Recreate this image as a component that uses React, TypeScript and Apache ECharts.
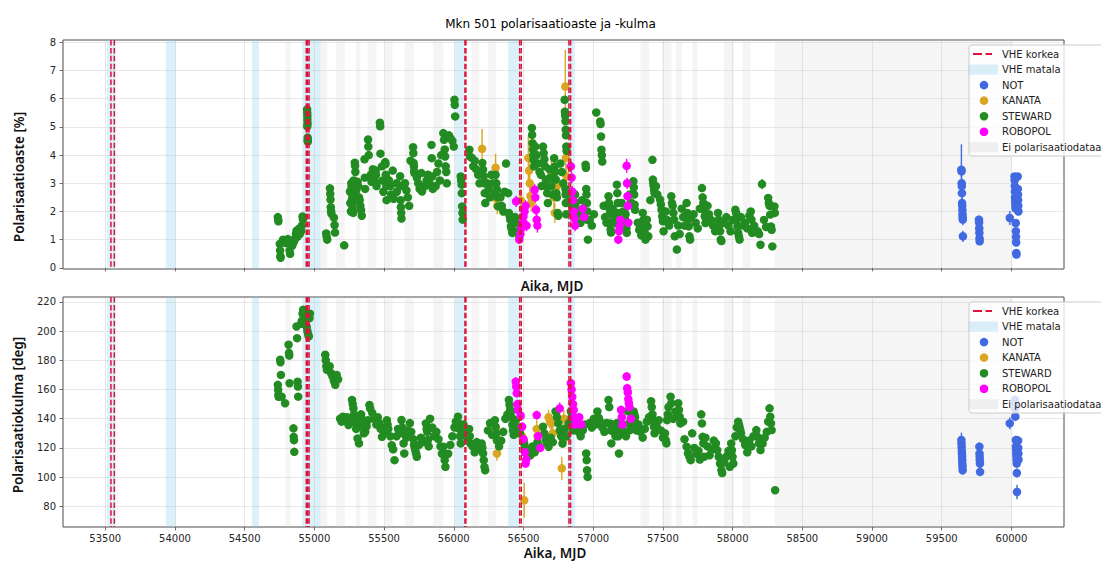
import React, { useEffect, useRef } from "react";
import * as echarts from "echarts";

// ---- axes / ticks ----
const X_MIN = 53197;
const X_MAX = 60377;
const xTicks = [53500, 54000, 54500, 55000, 55500, 56000, 56500, 57000, 57500, 58000, 58500, 59000, 59500, 60000];
const yTicksPd = [0, 1, 2, 3, 4, 5, 6, 7, 8];
const yTicksPa = [80, 100, 120, 140, 160, 180, 200, 220];

// ---- VHE periods and gaps ----
const vheHigh = [53541, 53565, 54942, 54952, 54962, 56080, 56087, 56473, 56484, 56826, 56838];
const vheLow = [
  [53514, 53575], [53935, 54005], [54553, 54602], [54913, 55045],
  [56008, 56078], [56390, 56474], [56816, 56868],
];
const noData = [
  [54793, 54829], [55047, 55092], [55154, 55219], [55298, 55331], [55382, 55446],
  [55505, 55560], [55648, 55714], [55852, 55924], [56127, 56182], [56246, 56302],
  [57339, 57401], [57494, 57562], [57593, 57638], [57712, 57748], [57937, 58008],
  [58071, 58128], [58302, 60005],
];

// ---- polarisation degree [%]: [MJD, value, error] ----
const stewardPd = [
  [54738, 1.8, 0], [54740, 1.72, 0], [54742, 1.65, 0],
  [54752, 0.85, 0], [54754, 0.62, 0], [54756, 0.42, 0], [54758, 0.36, 0],
  [54775, 1.0, 0], [54780, 0.92, 0], [54790, 0.98, 0], [54795, 0.88, 0],
  [54810, 1.02, 0], [54815, 0.9, 0], [54822, 0.62, 0], [54826, 0.5, 0],
  [54840, 0.78, 0], [54848, 0.88, 0], [54855, 0.95, 0], [54862, 1.05, 0], [54868, 1.2, 0],
  [54872, 1.32, 0], [54878, 1.1, 0], [54884, 1.25, 0], [54888, 1.38, 0], [54895, 1.2, 0],
  [54900, 1.42, 0], [54905, 1.3, 0], [54910, 1.5, 0], [54915, 1.82, 0], [54918, 1.72, 0],
  [54948, 5.62, 0], [54949, 5.5, 0], [54950, 5.38, 0], [54950, 5.25, 0], [54951, 5.12, 0],
  [54949, 5.02, 0], [54952, 4.62, 0], [54952, 4.52, 0], [54953, 4.48, 0],
  [55085, 1.22, 0], [55088, 1.1, 0], [55092, 1.0, 0],
  [55112, 2.82, 0], [55114, 2.62, 0], [55116, 2.42, 0], [55118, 2.15, 0], [55120, 2.0, 0], [55122, 1.92, 0],
  [55140, 1.78, 0], [55145, 1.52, 0], [55148, 1.25, 0],
  [55214, 0.8, 0],
  [55255, 2.7, 0], [55258, 2.3, 0], [55262, 2.0, 0],
  [55265, 3.0, 0], [55267, 2.85, 0], [55268, 2.65, 0], [55270, 2.45, 0], [55272, 2.3, 0],
  [55274, 2.12, 0], [55276, 2.0, 0], [55278, 1.95, 0], [55282, 3.1, 0], [55285, 2.6, 0],
  [55290, 3.73, 0], [55292, 3.62, 0], [55294, 3.4, 0], [55300, 2.75, 0], [55305, 2.4, 0],
  [55310, 3.05, 0], [55315, 2.9, 0], [55320, 2.5, 0], [55325, 2.4, 0], [55330, 2.2, 0], [55335, 2.05, 0], [55340, 1.85, 0],
  [55360, 3.85, 0], [55362, 3.2, 0], [55364, 2.8, 0],
  [55385, 4.55, 0], [55387, 4.3, 0], [55390, 4.0, 0], [55405, 3.3, 0], [55410, 3.05, 0], [55420, 3.5, 0], [55430, 3.2, 0],
  [55440, 3.45, 0], [55442, 3.3, 0], [55444, 3.0, 0], [55446, 2.9, 0],
  [55470, 5.15, 0], [55472, 5.02, 0], [55474, 4.05, 0], [55485, 3.6, 0], [55490, 3.1, 0], [55495, 2.7, 0],
  [55508, 3.75, 0], [55510, 3.68, 0], [55512, 3.3, 0], [55514, 3.2, 0], [55516, 2.9, 0], [55518, 2.4, 0],
  [55535, 3.1, 0], [55545, 2.9, 0], [55550, 2.6, 0],
  [55562, 3.45, 0], [55565, 2.55, 0], [55568, 2.45, 0],
  [55590, 3.0, 0], [55592, 2.7, 0],
  [55615, 3.25, 0], [55617, 2.9, 0], [55619, 2.4, 0], [55621, 2.15, 0], [55623, 1.95, 0], [55625, 1.75, 0],
  [55650, 3.0, 0], [55660, 2.75, 0], [55670, 2.5, 0], [55680, 2.2, 0], [55690, 3.8, 0],
  [55708, 4.28, 0], [55710, 4.07, 0], [55712, 3.72, 0], [55714, 3.6, 0], [55716, 3.42, 0], [55718, 3.36, 0],
  [55735, 3.2, 0], [55745, 3.0, 0], [55755, 2.8, 0],
  [55768, 3.36, 0], [55770, 2.89, 0], [55772, 2.71, 0],
  [55795, 2.9, 0], [55805, 3.1, 0], [55815, 3.3, 0], [55825, 3.0, 0],
  [55840, 4.36, 0], [55842, 3.89, 0], [55845, 3.24, 0], [55848, 2.89, 0], [55850, 2.8, 0],
  [55870, 2.9, 0], [55880, 3.4, 0], [55890, 3.7, 0], [55900, 3.1, 0], [55910, 4.0, 0],
  [55925, 4.78, 0], [55930, 4.54, 0], [55935, 4.2, 0], [55938, 3.95, 0], [55942, 3.6, 0], [55946, 3.4, 0], [55950, 3.0, 0],
  [55965, 4.7, 0], [55975, 4.6, 0], [55990, 4.5, 0], [56000, 4.3, 0],
  [56005, 5.96, 0], [56007, 5.78, 0], [56010, 5.37, 0],
  [56050, 3.24, 0], [56053, 3.1, 0], [56056, 2.95, 0], [56058, 2.65, 0], [56060, 2.18, 0], [56062, 1.95, 0], [56064, 1.71, 0],
  [56112, 4.19, 0], [56116, 3.95, 0],
  [56130, 3.9, 0], [56140, 3.6, 0], [56150, 3.8, 0], [56160, 3.5, 0], [56175, 3.3, 0], [56185, 3.0, 0],
  [56205, 3.72, 0], [56210, 3.48, 0], [56215, 3.25, 0], [56218, 3.0, 0], [56222, 2.65, 0], [56226, 2.3, 0],
  [56240, 3.0, 0], [56250, 2.8, 0], [56260, 2.5, 0], [56270, 3.3, 0], [56280, 3.0, 0], [56290, 2.6, 0],
  [56300, 3.3, 0], [56305, 3.0, 0], [56310, 2.77, 0], [56315, 2.5, 0], [56318, 2.18, 0],
  [56335, 2.5, 0], [56345, 2.2, 0], [56355, 2.0, 0], [56365, 2.7, 0], [56375, 3.7, 0],
  [56390, 2.65, 0], [56395, 1.95, 0], [56400, 1.85, 0], [56405, 1.7, 0], [56410, 1.47, 0], [56415, 1.38, 0], [56420, 1.24, 0],
  [56440, 1.8, 0], [56450, 1.6, 0], [56460, 1.3, 0], [56470, 1.12, 0],
  [56560, 4.96, 0], [56562, 4.72, 0], [56565, 4.42, 0], [56568, 4.2, 0], [56570, 4.0, 0], [56572, 3.83, 0], [56575, 3.6, 0],
  [56585, 4.3, 0], [56595, 4.0, 0], [56605, 3.7, 0], [56615, 3.4, 0], [56625, 3.3, 0], [56630, 2.9, 0],
  [56640, 4.3, 0], [56645, 4.07, 0], [56650, 3.85, 0], [56655, 3.6, 0], [56660, 3.13, 0], [56665, 2.89, 0], [56670, 2.65, 0], [56675, 2.3, 0],
  [56685, 3.5, 0], [56692, 3.2, 0], [56700, 2.9, 0], [56708, 2.6, 0],
  [56720, 3.89, 0], [56725, 3.6, 0], [56728, 3.4, 0], [56732, 3.13, 0], [56736, 2.65, 0], [56740, 2.5, 0], [56745, 1.95, 0], [56750, 1.85, 0],
  [56765, 3.7, 0], [56775, 3.4, 0], [56785, 3.0, 0],
  [56795, 5.96, 0], [56797, 5.54, 0], [56799, 5.4, 0], [56801, 5.2, 0], [56803, 4.9, 0], [56805, 4.7, 0], [56807, 4.3, 0], [56809, 4.15, 0],
  [56800, 2.8, 0], [56802, 2.6, 0], [56804, 2.3, 0], [56806, 1.9, 0],
  [56825, 2.7, 0], [56835, 2.4, 0], [56850, 2.2, 0], [56860, 2.0, 0],
  [56870, 2.6, 0], [56875, 2.3, 0], [56880, 2.06, 0],
  [56895, 1.9, 0], [56910, 1.6, 0], [56920, 2.4, 0], [56930, 1.8, 0],
  [56945, 3.66, 0], [56948, 3.55, 0], [56950, 2.8, 0], [56952, 2.6, 0], [56955, 2.3, 0], [56958, 2.0, 0], [56960, 1.7, 0], [56962, 1.0, 0],
  [56975, 1.7, 0], [56990, 1.5, 0], [57005, 1.9, 0],
  [57022, 5.51, 0],
  [57050, 5.19, 0], [57053, 5.1, 0], [57056, 4.66, 0], [57059, 4.19, 0], [57062, 4.0, 0], [57065, 3.77, 0],
  [57075, 2.2, 0], [57085, 1.8, 0], [57095, 1.6, 0],
  [57110, 2.54, 0], [57113, 2.3, 0], [57116, 2.1, 0], [57119, 1.9, 0], [57122, 1.6, 0], [57125, 1.36, 0], [57128, 1.25, 0],
  [57140, 2.1, 0], [57150, 1.8, 0], [57160, 1.6, 0],
  [57170, 2.95, 0], [57173, 2.65, 0], [57176, 2.3, 0], [57179, 1.95, 0], [57182, 1.7, 0], [57185, 1.5, 0],
  [57205, 2.3, 0], [57215, 2.0, 0], [57225, 1.7, 0],
  [57232, 1.9, 0], [57235, 1.65, 0], [57238, 1.4, 0], [57241, 1.24, 0],
  [57265, 2.6, 0], [57275, 2.3, 0],
  [57288, 3.07, 0], [57291, 2.85, 0], [57294, 2.6, 0], [57297, 2.24, 0], [57300, 2.06, 0],
  [57320, 1.6, 0], [57330, 1.35, 0], [57345, 1.15, 0],
  [57355, 1.95, 0], [57360, 1.7, 0], [57365, 1.5, 0], [57370, 1.24, 0], [57375, 1.0, 0], [57385, 1.71, 0], [57390, 1.47, 0], [57395, 1.12, 0],
  [57410, 2.4, 0],
  [57425, 3.83, 0], [57428, 3.13, 0], [57431, 3.0, 0], [57434, 2.9, 0], [57437, 2.77, 0], [57440, 2.65, 0], [57450, 2.9, 0], [57460, 2.6, 0],
  [57480, 2.42, 0], [57485, 2.25, 0], [57490, 2.06, 0], [57495, 1.83, 0], [57500, 1.65, 0], [57505, 1.3, 0],
  [57520, 2.0, 0], [57530, 1.7, 0], [57545, 1.5, 0],
  [57560, 2.54, 0], [57565, 2.3, 0], [57570, 2.2, 0], [57575, 1.95, 0], [57580, 1.71, 0], [57585, 1.12, 0], [57600, 0.65, 0], [57610, 1.5, 0], [57620, 1.2, 0],
  [57635, 2.1, 0], [57645, 1.8, 0], [57655, 1.5, 0],
  [57670, 2.3, 0], [57675, 1.95, 0], [57680, 1.71, 0], [57685, 1.47, 0], [57690, 1.12, 0], [57695, 1.0, 0], [57700, 1.8, 0],
  [57720, 1.9, 0], [57735, 1.6, 0], [57750, 1.4, 0], [57765, 2.1, 0],
  [57780, 2.83, 0], [57785, 2.5, 0], [57790, 2.3, 0], [57795, 2.06, 0], [57800, 1.83, 0], [57805, 1.59, 0], [57820, 2.2, 0], [57830, 1.9, 0],
  [57845, 1.7, 0], [57860, 1.5, 0], [57875, 1.3, 0],
  [57895, 1.95, 0], [57900, 1.71, 0], [57905, 1.5, 0], [57910, 1.3, 0], [57915, 1.0, 0], [57920, 0.95, 0], [57935, 1.6, 0],
  [57955, 1.8, 0], [57970, 1.5, 0], [57985, 1.3, 0], [58000, 1.7, 0],
  [58020, 2.06, 0], [58025, 1.95, 0], [58030, 1.71, 0], [58035, 1.47, 0], [58040, 1.24, 0], [58045, 1.12, 0], [58050, 1.0, 0], [58060, 1.8, 0], [58075, 1.5, 0],
  [58090, 1.6, 0], [58105, 1.4, 0], [58120, 1.85, 0],
  [58130, 2.0, 0], [58135, 1.71, 0], [58140, 1.24, 0], [58155, 1.5, 0], [58165, 1.3, 0],
  [58180, 1.3, 0], [58190, 1.2, 0], [58200, 0.82, 0],
  [58211, 2.97, 0.18],
  [58225, 1.7, 0], [58240, 1.45, 0],
  [58255, 2.48, 0], [58260, 2.3, 0], [58265, 2.2, 0], [58270, 1.89, 0], [58275, 1.47, 0], [58280, 1.35, 0], [58285, 0.76, 0],
  [58300, 2.18, 0], [58303, 1.95, 0],
];

const kanataPd = [
  [56203, 4.22, 0.7], [56300, 3.55, 0.5], [56305, 2.75, 0.4], [56308, 2.45, 0.35], [56312, 2.2, 0.3], [56480, 2.4, 0.4],
  [56535, 3.9, 0.8], [56540, 3.45, 0.5], [56545, 3.0, 0.45], [56550, 2.55, 0.4], [56555, 2.3, 0.3],
  [56700, 3.35, 0.5], [56710, 3.0, 0.4], [56718, 2.5, 0.4], [56725, 1.95, 0.35], [56740, 2.9, 0.3],
  [56800, 6.43, 1.3], [56804, 3.9, 0.4], [56808, 3.25, 0.4],
];

const robopolPd = [
  [56447, 2.36, 0.2], [56470, 1.0, 0.15], [56478, 1.2, 0.15], [56485, 1.4, 0.15], [56492, 1.6, 0.15],
  [56500, 1.83, 0.2], [56508, 2.0, 0.2], [56515, 2.2, 0.2], [56522, 1.5, 0.2],
  [56580, 2.77, 0.2], [56585, 2.5, 0.2], [56590, 2.06, 0.2], [56595, 1.71, 0.2], [56600, 1.5, 0.25],
  [56840, 3.6, 0.2], [56845, 3.2, 0.2], [56850, 2.7, 0.2], [56855, 2.4, 0.2], [56860, 2.0, 0.2], [56865, 1.75, 0.2], [56870, 1.5, 0.2],
  [56925, 2.1, 0.2], [56935, 1.8, 0.2],
  [57180, 1.0, 0.15], [57185, 1.3, 0.15], [57190, 1.5, 0.15], [57195, 1.7, 0.15],
  [57240, 3.62, 0.25], [57243, 3.0, 0.2], [57246, 2.54, 0.2], [57249, 2.2, 0.2], [57252, 1.6, 0.2],
];

const notPd = [
  [59641, 3.48, 0.9], [59642, 3.42, 0.2], [59643, 3.0, 0.2], [59644, 2.9, 0.2], [59645, 2.65, 0.2], [59646, 2.3, 0.2],
  [59647, 2.2, 0.2], [59648, 2.05, 0.2], [59649, 1.9, 0.2], [59650, 1.78, 0.2], [59651, 1.71, 0.2], [59652, 1.12, 0.2],
  [59767, 1.71, 0.15], [59768, 1.6, 0.1], [59769, 1.4, 0.1], [59770, 1.24, 0.1], [59771, 1.05, 0.1], [59772, 0.94, 0.1],
  [59988, 1.77, 0.25],
  [60022, 3.24, 0.1], [60023, 3.1, 0.1], [60024, 2.9, 0.1], [60025, 2.7, 0.1], [60026, 2.5, 0.1], [60027, 2.4, 0.1],
  [60028, 2.3, 0.1], [60029, 2.2, 0.1], [60030, 2.1, 0.1], [60031, 1.59, 0.1], [60032, 1.3, 0.1], [60033, 1.1, 0.1],
  [60034, 0.9, 0.1], [60035, 0.53, 0.1], [60036, 0.47, 0.1],
  [60045, 3.24, 0.1], [60046, 2.8, 0.1], [60047, 2.6, 0.1], [60048, 2.4, 0.1], [60049, 2.2, 0.1], [60050, 2.0, 0.1],
];

// ---- polarisation angle [deg]: [MJD, value, error] ----
const stewardPa = [
  [54738, 163.2, 0], [54740, 159.7, 0], [54742, 156.3, 0], [54744, 155, 0],
  [54755, 180.4, 0], [54757, 178.7, 0], [54760, 170, 0], [54765, 155.1, 0],
  [54790, 150.6, 0],
  [54815, 190.7, 0], [54818, 185, 0], [54820, 183.3, 0], [54822, 164.3, 0],
  [54850, 133.4, 0], [54852, 127.6, 0], [54854, 125.3, 0], [54856, 117.3, 0],
  [54872, 203.2, 0], [54876, 195.2, 0], [54880, 165.4, 0], [54882, 162, 0], [54884, 155.1, 0],
  [54905, 205, 0], [54910, 207, 0], [54915, 212, 0], [54920, 214.7, 0], [54925, 210, 0], [54930, 213, 0],
  [54935, 208, 0], [54940, 211, 0], [54945, 203, 0], [54950, 200, 0], [54955, 198, 0], [54960, 196.4, 0],
  [54965, 209, 0], [54968, 212, 0],
  [55078, 183.8, 0], [55082, 180, 0], [55086, 176, 0], [55090, 173.5, 0],
  [55110, 176, 0], [55120, 171.2, 0], [55130, 169, 0], [55140, 166, 0], [55150, 163.2, 0], [55160, 170, 0], [55170, 167, 0],
  [55185, 140, 0], [55195, 138, 0], [55205, 141.4, 0], [55220, 139, 0],
  [55235, 141, 0], [55240, 138, 0], [55245, 135.7, 0],
  [55270, 152.9, 0], [55275, 150, 0], [55280, 147, 0], [55285, 143, 0], [55290, 141, 0], [55295, 136.8, 0],
  [55300, 133, 0], [55310, 126.5, 0], [55320, 123.1, 0],
  [55335, 143, 0], [55340, 140, 0], [55345, 137, 0], [55350, 134, 0], [55355, 130, 0],
  [55365, 131, 0], [55375, 135, 0], [55385, 139, 0],
  [55395, 149.4, 0], [55400, 147, 0], [55415, 144, 0], [55430, 140, 0], [55445, 136, 0],
  [55455, 141, 0], [55465, 137, 0], [55475, 133, 0], [55485, 127.6, 0], [55500, 131, 0], [55510, 134, 0],
  [55520, 139, 0], [55525, 136, 0], [55530, 133, 0], [55545, 128, 0],
  [55555, 121.9, 0], [55565, 119, 0], [55575, 111.6, 0], [55590, 128, 0], [55600, 133, 0], [55612, 131, 0],
  [55625, 139.1, 0], [55630, 134, 0], [55635, 130, 0], [55640, 123.1, 0], [55645, 116.2, 0],
  [55660, 127, 0], [55670, 132, 0], [55685, 137, 0], [55695, 131, 0],
  [55710, 126, 0], [55715, 122, 0], [55720, 120, 0], [55725, 118, 0], [55730, 116, 0], [55735, 113.9, 0],
  [55750, 122, 0], [55765, 127, 0], [55780, 124, 0],
  [55800, 136.8, 0], [55805, 133, 0], [55810, 131, 0], [55815, 125.4, 0], [55820, 121, 0], [55830, 140, 0],
  [55845, 134, 0], [55860, 128, 0], [55875, 131, 0], [55890, 126, 0], [55905, 121, 0], [55915, 116, 0],
  [55925, 120.8, 0], [55930, 116, 0], [55935, 111.6, 0], [55940, 107, 0],
  [55960, 116, 0], [55975, 122, 0], [55990, 128, 0], [56005, 134, 0], [56015, 138, 0],
  [56030, 141.4, 0], [56035, 137, 0], [56040, 133, 0], [56045, 128, 0], [56050, 123.1, 0], [56060, 130, 0],
  [56070, 136, 0], [56080, 130, 0], [56095, 127, 0],
  [56110, 133, 0], [56115, 128, 0], [56120, 123, 0],
  [56135, 121, 0], [56150, 117, 0], [56165, 124, 0], [56180, 120, 0],
  [56200, 123, 0], [56205, 120, 0], [56210, 116.2, 0], [56215, 111.6, 0], [56220, 107, 0], [56225, 104.7, 0],
  [56245, 132, 0], [56260, 137, 0], [56275, 129, 0],
  [56295, 139, 0], [56300, 134.5, 0], [56305, 130, 0], [56310, 125, 0],
  [56325, 121, 0], [56340, 125, 0], [56355, 131, 0], [56370, 140, 0], [56385, 143, 0],
  [56395, 152.9, 0], [56400, 149.4, 0], [56405, 146, 0], [56410, 145, 0], [56415, 141, 0], [56420, 136, 0], [56425, 132, 0], [56430, 129, 0],
  [56445, 139, 0], [56460, 134, 0], [56475, 130, 0],
  [56500, 125, 0], [56505, 123, 0], [56510, 120.5, 0], [56515, 118, 0], [56520, 116.2, 0],
  [56535, 118, 0], [56550, 115, 0], [56565, 121, 0], [56580, 117, 0], [56600, 124, 0], [56615, 121, 0],
  [56640, 134.5, 0], [56650, 130, 0], [56660, 125.4, 0], [56670, 123, 0], [56680, 120.8, 0],
  [56695, 127, 0], [56710, 124, 0],
  [56730, 145, 0], [56740, 141, 0], [56750, 136.8, 0], [56760, 132, 0], [56770, 128, 0], [56780, 123, 0],
  [56795, 133, 0], [56810, 128, 0], [56825, 137, 0],
  [56840, 145, 0], [56845, 141, 0], [56850, 136.8, 0], [56855, 132, 0],
  [56865, 138, 0], [56880, 134, 0], [56895, 131, 0], [56910, 128, 0], [56925, 132, 0], [56940, 136, 0],
  [56950, 116.2, 0], [56953, 111.6, 0], [56956, 104.7, 0], [56960, 100.1, 0],
  [56975, 137, 0], [56990, 134, 0], [57005, 140, 0], [57015, 136, 0],
  [57030, 145, 0], [57040, 140.6, 0], [57045, 139, 0], [57050, 136.8, 0],
  [57065, 134, 0], [57080, 131, 0], [57095, 137, 0],
  [57110, 152.9, 0], [57115, 148, 0], [57120, 136.8, 0], [57125, 132, 0], [57130, 123.1, 0],
  [57140, 136, 0], [57150, 131, 0], [57160, 128, 0],
  [57170, 137, 0], [57175, 132, 0], [57180, 128, 0], [57185, 116.2, 0],
  [57205, 133, 0], [57220, 130, 0], [57235, 128, 0],
  [57250, 145, 0], [57255, 136.8, 0], [57260, 132, 0], [57275, 134, 0],
  [57290, 145, 0], [57295, 143, 0], [57300, 141, 0], [57305, 136.8, 0], [57310, 132, 0],
  [57325, 136, 0], [57340, 131, 0], [57355, 127, 0], [57370, 133, 0], [57385, 138, 0], [57400, 141, 0],
  [57415, 152, 0], [57420, 148, 0], [57425, 143, 0], [57430, 139, 0], [57435, 134.5, 0], [57440, 130, 0],
  [57455, 135, 0], [57470, 139, 0], [57485, 132, 0], [57500, 127, 0],
  [57515, 130, 0], [57520, 125.4, 0], [57525, 123.1, 0], [57530, 139, 0], [57535, 143, 0], [57540, 148, 0],
  [57555, 155.1, 2.5], [57560, 150.6, 0], [57575, 140, 0], [57590, 145, 0],
  [57610, 150.6, 0], [57615, 146, 0], [57620, 141.4, 0], [57625, 136.8, 0], [57645, 138, 0], [57655, 126, 0],
  [57670, 120.8, 0], [57680, 116.2, 0], [57690, 114, 0], [57700, 111.6, 0], [57710, 130, 0],
  [57725, 120, 0], [57740, 116, 0], [57755, 118, 0], [57765, 112, 0],
  [57775, 143, 0], [57780, 136.8, 0], [57785, 127.6, 0], [57790, 123.1, 0], [57795, 113.9, 0],
  [57805, 127, 0], [57820, 121, 0], [57835, 115, 0], [57850, 119, 0], [57865, 125, 0],
  [57880, 123.1, 0], [57890, 118.5, 0], [57900, 113.9, 0], [57910, 109.3, 0], [57920, 104.7, 0], [57925, 102.8, 0],
  [57940, 110, 0], [57955, 114, 0], [57970, 118, 0], [57980, 107, 0],
  [57990, 123.1, 0], [57995, 118.5, 0], [58000, 113.9, 0], [58005, 109.3, 0],
  [58020, 128, 0], [58030, 134, 0],
  [58040, 138, 0], [58045, 136, 0], [58050, 134, 0], [58055, 132, 0], [58060, 130, 0],
  [58075, 126, 0], [58090, 122, 0], [58105, 117, 0], [58120, 125, 0], [58135, 121, 0], [58150, 128, 0],
  [58170, 132.2, 0], [58180, 127.6, 0], [58190, 123.1, 0], [58200, 118.5, 0],
  [58215, 123, 0], [58230, 127, 0], [58245, 131, 0], [58255, 138, 0],
  [58265, 147.1, 0], [58270, 141.4, 0], [58275, 136.8, 0], [58280, 132.2, 0],
  [58305, 91, 0],
];

const kanataPa = [
  [56300, 133.4, 4], [56305, 127, 5], [56310, 116.2, 5], [56490, 128, 8], [56505, 84.1, 12], [56510, 118, 8],
  [56595, 133, 6], [56600, 128, 5], [56605, 121, 5], [56680, 141, 5], [56690, 138, 5], [56700, 136.8, 6],
  [56710, 130, 5], [56775, 106, 8], [56785, 125, 5], [56790, 140, 6],
];

const robopolPa = [
  [56445, 165.4, 3], [56448, 162, 3], [56452, 157.5, 3], [56456, 150, 3], [56460, 146, 3],
  [56480, 142, 3], [56490, 134.5, 3], [56500, 126, 3], [56510, 117, 3], [56515, 109.3, 3], [56520, 112, 3],
  [56595, 142.5, 3], [56605, 128, 3], [56620, 120, 3],
  [56760, 147.1, 4],
  [56840, 164.3, 3], [56845, 160, 3], [56850, 155, 3], [56855, 150, 3], [56860, 146, 3], [56865, 141, 3], [56870, 136, 3],
  [56900, 141, 3], [56915, 136, 3],
  [57200, 146, 3], [57205, 141, 3], [57210, 136, 3],
  [57240, 168.9, 3], [57244, 160.9, 3], [57248, 158, 3], [57252, 153.5, 3], [57256, 150.6, 3], [57260, 148, 3], [57270, 140, 3],
];

const notPa = [
  [59641, 125.4, 5], [59642, 123, 3], [59643, 120.5, 3], [59644, 118, 3], [59645, 116, 3], [59646, 114, 3],
  [59647, 111.5, 3], [59648, 109, 3], [59649, 107, 3], [59650, 104.7, 3],
  [59770, 120.8, 3], [59771, 116, 3], [59772, 113.9, 3], [59773, 111.6, 3], [59774, 109.3, 3], [59775, 103.6, 3],
  [59988, 136.8, 4],
  [60025, 152.9, 3], [60026, 150, 3], [60027, 146.5, 3], [60028, 141.4, 3], [60032, 125.4, 3], [60033, 121, 3],
  [60034, 118.5, 3], [60035, 116, 3], [60036, 114, 3], [60037, 111.6, 3], [60038, 109.3, 3], [60039, 102.8, 3], [60040, 89.8, 5],
  [60048, 125, 3], [60049, 120, 3], [60050, 116, 3], [60051, 112, 3],
];

const instruments = [
  { name: "NOT", color: "#4169e1", pd: notPd, pa: notPa },
  { name: "KANATA", color: "#daa520", pd: kanataPd, pa: kanataPa },
  { name: "STEWARD", color: "#228b22", pd: stewardPd, pa: stewardPa },
  { name: "ROBOPOL", color: "#ff00ff", pd: robopolPd, pa: robopolPa },
];

const legendItems = ["VHE korkea", "VHE matala", "NOT", "KANATA", "STEWARD", "ROBOPOL", "Ei polarisaatiodataa"];

const FONT = "DejaVu Sans";
const LABEL_FONT = "Noto Sans";
const GRID_TOPS = [40, 297];
const GRID_H = [229, 230];

function bandSeries(gi: number, data: number[][], color: string) {
  return {
    type: "custom",
    xAxisIndex: gi,
    yAxisIndex: gi,
    z: 1,
    silent: true,
    data,
    renderItem: (params: any, api: any) => {
      const cs = params.coordSys;
      const x0 = api.coord([api.value(0), 0])[0];
      const x1 = api.coord([api.value(1), 0])[0];
      return { type: "rect", shape: { x: x0, y: cs.y, width: x1 - x0, height: cs.height }, style: { fill: color } };
    },
  };
}

function vheLineSeries(gi: number) {
  return {
    type: "custom",
    xAxisIndex: gi,
    yAxisIndex: gi,
    z: 5,
    silent: true,
    data: vheHigh.map((v) => [v, 0]),
    renderItem: (params: any, api: any) => {
      const cs = params.coordSys;
      const x = api.coord([api.value(0), 0])[0];
      return {
        type: "line",
        shape: { x1: x, y1: cs.y, x2: x, y2: cs.y + cs.height },
        style: { stroke: "#dc143c", lineWidth: 1.5, lineDash: [5.5, 2.4] },
      };
    },
  };
}

function errSeries(gi: number, data: number[][], color: string, name: string) {
  return {
    type: "custom",
    name,
    xAxisIndex: gi,
    yAxisIndex: gi,
    z: 2,
    silent: true,
    data,
    renderItem: (params: any, api: any) => {
      const x = api.value(0);
      const y = api.value(1);
      const e = api.value(2);
      if (!e) return null;
      const p1 = api.coord([x, y - e]);
      const p2 = api.coord([x, y + e]);
      return { type: "line", shape: { x1: p1[0], y1: p1[1], x2: p2[0], y2: p2[1] }, style: { stroke: color, lineWidth: 1.4 } };
    },
  };
}

function pointSeries(gi: number, data: number[][], color: string, name: string) {
  return {
    type: "scatter",
    name,
    xAxisIndex: gi,
    yAxisIndex: gi,
    z: 2,
    symbol: "circle",
    symbolSize: 8.5,
    itemStyle: { color, opacity: 1 },
    data: data.map((d) => [d[0], d[1]]),
  };
}

function legendGraphic(gi: number) {
  const top = GRID_TOPS[gi];
  const Z = 100;
  const children: any[] = [
    {
      type: "rect",
      z: Z,
      shape: { x: 969, y: top + 5, width: 200, height: 111, r: 3 },
      style: { fill: "rgba(255,255,255,0.8)", stroke: "#cccccc", lineWidth: 1 },
    },
  ];
  legendItems.forEach((label, i) => {
    const cy = top + 14 + i * 15.55;
    if (i === 0) {
      children.push({ type: "line", z: Z + 1, shape: { x1: 973, y1: cy, x2: 982, y2: cy }, style: { stroke: "#dc143c", lineWidth: 2 } });
      children.push({ type: "line", z: Z + 1, shape: { x1: 985.5, y1: cy, x2: 992, y2: cy }, style: { stroke: "#dc143c", lineWidth: 2 } });
    } else if (i === 1) {
      children.push({ type: "rect", z: Z + 1, shape: { x: 968.5, y: cy - 5, width: 29.5, height: 10 }, style: { fill: "rgba(135,206,235,0.3)" } });
    } else if (i === 6) {
      children.push({ type: "rect", z: Z + 1, shape: { x: 968.5, y: cy - 5, width: 29.5, height: 10 }, style: { fill: "rgba(200,200,200,0.25)" } });
    } else {
      const inst = instruments[i - 2];
      children.push({ type: "circle", z: Z + 1, shape: { cx: 984, cy, r: 4.3 }, style: { fill: inst.color } });
    }
    children.push({
      type: "text",
      z: Z + 1,
      x: 1002,
      y: cy,
      style: { text: label, fontSize: 10, fontFamily: FONT, fill: "#222", textVerticalAlign: "middle", textAlign: "left" },
    });
  });
  return { type: "group", z: Z, children };
}

function buildOption() {
  const grids = [0, 1].map((gi) => ({
    left: 63,
    top: GRID_TOPS[gi],
    width: 1001,
    height: GRID_H[gi],
    show: true,
    borderColor: "#4d4d4d",
    borderWidth: 1,
    backgroundColor: "transparent",
    containLabel: false,
  }));
  const splitLine = { show: true, lineStyle: { color: "rgba(170,170,170,0.35)", width: 0.8 } };
  const xAxes = [0, 1].map((gi) => ({
    type: "value",
    gridIndex: gi,
    min: X_MIN,
    max: X_MAX,
    axisLine: { show: false },
    axisTick: { show: true, length: 3.5, lineStyle: { color: "#4d4d4d", width: 0.8 }, customValues: xTicks },
    axisLabel: {
      show: gi === 1,
      customValues: xTicks,
      formatter: (v: number) => String(v),
      fontSize: 10,
      fontFamily: FONT,
      color: "#262626",
      margin: 6,
    },
    splitLine,
  }));
  const yAxes = [
    {
      type: "value",
      gridIndex: 0,
      min: -0.04,
      max: 8.08,
      axisLine: { show: false },
      axisTick: { show: true, length: 3.5, lineStyle: { color: "#4d4d4d", width: 0.8 }, customValues: yTicksPd },
      axisLabel: { customValues: yTicksPd, formatter: (v: number) => String(v), fontSize: 10, fontFamily: FONT, color: "#262626", margin: 7 },
      splitLine,
    },
    {
      type: "value",
      gridIndex: 1,
      min: 65.8,
      max: 223.4,
      axisLine: { show: false },
      axisTick: { show: true, length: 3.5, lineStyle: { color: "#4d4d4d", width: 0.8 }, customValues: yTicksPa },
      axisLabel: { customValues: yTicksPa, formatter: (v: number) => String(v), fontSize: 10, fontFamily: FONT, color: "#262626", margin: 7 },
      splitLine,
    },
  ];

  const series: any[] = [];
  [0, 1].forEach((gi) => {
    series.push(bandSeries(gi, vheLow, "rgba(135,206,235,0.3)"));
    series.push(bandSeries(gi, noData, "rgba(200,200,200,0.18)"));
    instruments.forEach((inst) => {
      const d = gi === 0 ? inst.pd : inst.pa;
      series.push(errSeries(gi, d, inst.color, inst.name + " err"));
      series.push(pointSeries(gi, d, inst.color, inst.name));
    });
    series.push(vheLineSeries(gi));
  });

  const labelStyle = { fontSize: 13.5, fontFamily: LABEL_FONT, fontWeight: 600, fill: "#111", textAlign: "center", textVerticalAlign: "middle" };

  return {
    animation: false,
    backgroundColor: "#ffffff",
    title: {
      text: "Mkn 501 polarisaatioaste ja -kulma",
      left: "center",
      top: 13,
      textStyle: { fontSize: 12, fontWeight: "normal", color: "#000", fontFamily: FONT },
    },
    grid: grids,
    xAxis: xAxes,
    yAxis: yAxes,
    series,
    graphic: [
      { type: "text", z: 50, x: 19, y: 177, rotation: Math.PI / 2, style: { ...labelStyle, text: "Polarisaatioaste [%]" } },
      { type: "text", z: 50, x: 17.5, y: 415, rotation: Math.PI / 2, style: { ...labelStyle, text: "Polarisaatiokulma [deg]" } },
      { type: "text", z: 50, x: 552, y: 286, style: { ...labelStyle, text: "Aika, MJD" } },
      { type: "text", z: 50, x: 555, y: 553, style: { ...labelStyle, text: "Aika, MJD" } },
      legendGraphic(0),
      legendGraphic(1),
    ],
  };
}

export default function App() {
  const ref = useRef<HTMLDivElement>(null);
  useEffect(() => {
    if (!ref.current) return;
    const chart = echarts.init(ref.current, null, { renderer: "svg" });
    chart.setOption(buildOption() as any);
    return () => chart.dispose();
  }, []);
  return <div ref={ref} style={{ position: "fixed", left: 0, top: 0, width: 1101, height: 563 }} />;
}
